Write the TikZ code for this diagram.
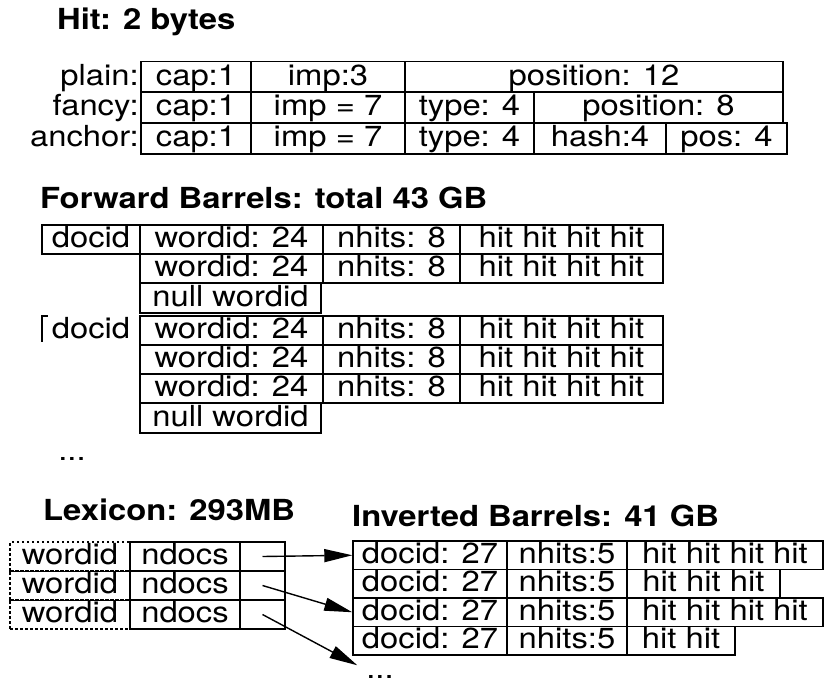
\documentclass[tikz,border=0pt]{standalone}
\usepackage{fontspec}
\setmainfont{TeX Gyre Heros}[FakeStretch=1.13]
\usetikzlibrary{arrows.meta}
\begin{document}
\begin{tikzpicture}[x=1pt, y=-1pt,
    every node/.style={font=\fontsize{29}{34}\selectfont, inner sep=0pt, text height=21pt, text depth=5pt},
    cell/.style={draw, rectangle, line width=1.4pt},
    title/.style={anchor=west, font=\fontsize{29}{34}\selectfont\bfseries},
    rowlabel/.style={anchor=east},
    pointer/.style={-{Triangle[length=28pt, width=13pt]}, line width=1.4pt}]
    \useasboundingbox (0,0) rectangle (827,685);

    % hit formats
    \node[title] (thit) at (57,22) {Hit: 2 bytes};
    \node[rowlabel] (lplain) at (139,77) {plain:};
    \node[rowlabel] (lfancy) at (139,107.5) {fancy:};
    \node[rowlabel] (lanchor) at (139,138.5) {anchor:};
    \node[cell, minimum width=110, minimum height=31] (p1) at (196,77) {cap:1};
    \node[cell, minimum width=154, minimum height=31] (p2) at (328,77) {imp:3};
    \node[cell, minimum width=378, minimum height=31] (p3) at (594,77) {position: 12};
    \node[cell, minimum width=110, minimum height=31] (f1) at (196,107.5) {cap:1};
    \node[cell, minimum width=154, minimum height=31] (f2) at (328,107.5) {imp = 7};
    \node[cell, minimum width=129, minimum height=31] (f3) at (469.5,107.5) {type: 4};
    \node[cell, minimum width=249, minimum height=31] (f4) at (658.5,107.5) {position: 8};
    \node[cell, minimum width=110, minimum height=31] (a1) at (196,138.5) {cap:1};
    \node[cell, minimum width=154, minimum height=31] (a2) at (328,138.5) {imp = 7};
    \node[cell, minimum width=129, minimum height=31] (a3) at (469.5,138.5) {type: 4};
    \node[cell, minimum width=132, minimum height=31] (a4) at (600,138.5) {hash:4};
    \node[cell, minimum width=121, minimum height=31] (a5) at (726.5,138.5) {pos: 4};

    % forward barrels
    \node[title] (tfwd) at (40,200) {Forward Barrels: total 43 GB};
    \node[cell, minimum width=98, minimum height=29] (d1) at (91,239.5) {docid};
    \node[cell, minimum width=183, minimum height=29] (w1) at (231.5,239.5) {wordid: 24};
    \node[cell, minimum width=137, minimum height=29] (n1) at (391.5,239.5) {nhits: 8};
    \node[cell, minimum width=203, minimum height=29] (h1) at (561.5,239.5) {hit hit hit hit};
    \node[cell, minimum width=183, minimum height=29] (w2) at (231.5,268.5) {wordid: 24};
    \node[cell, minimum width=137, minimum height=29] (n2) at (391.5,268.5) {nhits: 8};
    \node[cell, minimum width=203, minimum height=29] (h2) at (561.5,268.5) {hit hit hit hit};
    \node[cell, minimum width=181, minimum height=30] (z1) at (230.5,298) {null wordid};
    \node[minimum width=98, minimum height=29] (d2) at (91,330.5) {docid};
    \draw[line width=1.4pt] ([xshift=6pt]d2.north west) -- (d2.north west) -- ([yshift=3pt]d2.south west);
    \node[cell, minimum width=183, minimum height=29] (w3) at (231.5,330.5) {wordid: 24};
    \node[cell, minimum width=137, minimum height=29] (n3) at (391.5,330.5) {nhits: 8};
    \node[cell, minimum width=203, minimum height=29] (h3) at (561.5,330.5) {hit hit hit hit};
    \node[cell, minimum width=183, minimum height=29] (w4) at (231.5,359.5) {wordid: 24};
    \node[cell, minimum width=137, minimum height=29] (n4) at (391.5,359.5) {nhits: 8};
    \node[cell, minimum width=203, minimum height=29] (h4) at (561.5,359.5) {hit hit hit hit};
    \node[cell, minimum width=183, minimum height=29] (w5) at (231.5,388.5) {wordid: 24};
    \node[cell, minimum width=137, minimum height=29] (n5) at (391.5,388.5) {nhits: 8};
    \node[cell, minimum width=203, minimum height=29] (h5) at (561.5,388.5) {hit hit hit hit};
    \node[cell, minimum width=181, minimum height=30] (z2) at (230.5,418) {null wordid};
    \node (fdots) at (72,452) {...};

    % lexicon
    \node[title] (tlex) at (43,512) {Lexicon: 293MB};
    \node[draw, dash pattern=on 2.5pt off 2.5pt, line width=1.4pt, minimum width=120, minimum height=29] (x1) at (70,556.5) {wordid};
    \node[draw, dash pattern=on 2.5pt off 2.5pt, line width=1.4pt, minimum width=120, minimum height=29] (x2) at (70,585.5) {wordid};
    \node[draw, dash pattern=on 2.5pt off 2.5pt, line width=1.4pt, minimum width=120, minimum height=29] (x3) at (70,614.5) {wordid};
    \draw[line width=1.4pt] (x1.south west) -- (x1.south east);
    \draw[line width=1.4pt] (x2.south west) -- (x2.south east);
    \node[cell, minimum width=110, minimum height=29] (c1) at (185,556.5) {ndocs};
    \node[cell, minimum width=110, minimum height=29] (c2) at (185,585.5) {ndocs};
    \node[cell, minimum width=110, minimum height=29] (c3) at (185,614.5) {ndocs};
    \node[cell, minimum width=45, minimum height=29] (q1) at (262.5,556.5) {};
    \node[cell, minimum width=45, minimum height=29] (q2) at (262.5,585.5) {};
    \node[cell, minimum width=45, minimum height=29] (q3) at (262.5,614.5) {};

    % inverted barrels
    \node[title] (tinv) at (352,518) {Inverted Barrels: 41 GB};
    \node[cell, minimum width=154, minimum height=28.5] (i1) at (430,555.25) {docid: 27};
    \node[cell, minimum width=120, minimum height=28.5] (m1) at (567,555.25) {nhits:5};
    \node[cell, minimum width=196, minimum height=28.5] (k1) at (725,555.25) {hit hit hit hit};
    \node[cell, minimum width=154, minimum height=28.5] (i2) at (430,583.75) {docid: 27};
    \node[cell, minimum width=120, minimum height=28.5] (m2) at (567,583.75) {nhits:5};
    \node[cell, minimum width=153, minimum height=28.5] (k2) at (703.5,583.75) {hit hit hit};
    \node[cell, minimum width=154, minimum height=28.5] (i3) at (430,612.25) {docid: 27};
    \node[cell, minimum width=120, minimum height=28.5] (m3) at (567,612.25) {nhits:5};
    \node[cell, minimum width=196, minimum height=28.5] (k3) at (725,612.25) {hit hit hit hit};
    \node[cell, minimum width=154, minimum height=28.5] (i4) at (430,640.75) {docid: 27};
    \node[cell, minimum width=120, minimum height=28.5] (m4) at (567,640.75) {nhits:5};
    \node[cell, minimum width=108, minimum height=28.5] (k4) at (681,640.75) {hit hit};
    \node (idots) at (380,670) {...};

    \draw[pointer] (q1.center) -- (i1.west);
    \draw[pointer] (q2.center) -- (i3.west);
    \draw[pointer, shorten >=10pt] (q3.center) -- (idots.west);
\end{tikzpicture}
\end{document}
